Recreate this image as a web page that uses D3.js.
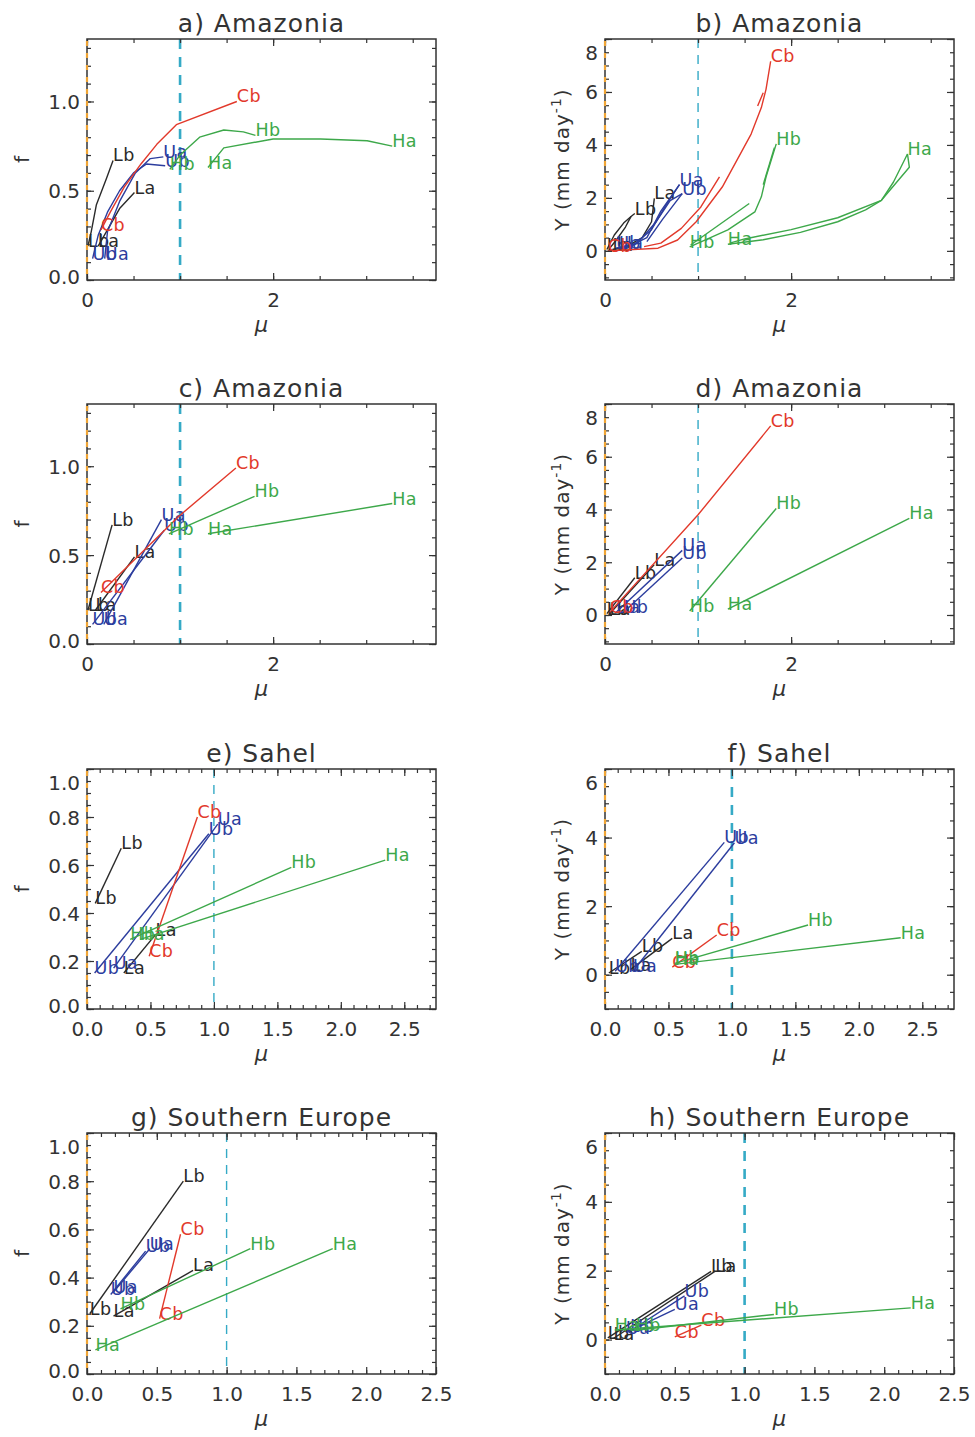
<!DOCTYPE html>
<html><head><meta charset="utf-8">
<script src="https://cdn.jsdelivr.net/npm/d3@7"></script>
<style>body{margin:0;background:#fff}svg{display:block}</style>
</head><body>
<svg id="chart" width="975" height="1437"></svg>
<script>
// ---------- text ----------
const panelTitles = ["a) Amazonia","b) Amazonia","c) Amazonia","d) Amazonia",
                     "e) Sahel","f) Sahel","g) Southern Europe","h) Southern Europe"];
const xTitle = "μ";
const fTitle = "f";
const yTitleMain = "Y (mm day", yTitleSup = "-1", yTitleEnd = ")";

// ---------- axis ticks ----------
const amazXTicks = [0, 2], amazXTickLabels = ["0", "2"];
const amazFTicks = [0, 0.5, 1.0], amazFTickLabels = ["0.0", "0.5", "1.0"];
const amazYTicks = [0, 2, 4, 6, 8], amazYTickLabels = ["0", "2", "4", "6", "8"];
const otherXTicks = [0, 0.5, 1.0, 1.5, 2.0, 2.5], otherXTickLabels = ["0.0","0.5","1.0","1.5","2.0","2.5"];
const otherFTicks = [0, 0.2, 0.4, 0.6, 0.8, 1.0], otherFTickLabels = ["0.0","0.2","0.4","0.6","0.8","1.0"];
const otherYTicks = [0, 2, 4, 6], otherYTickLabels = ["0", "2", "4", "6"];
const xDomains = [[0,3.75],[0,3.75],[0,3.75],[0,3.75],[0,2.75],[0,2.75],[0,2.5],[0,2.5]];
const yDomains = [[0,1.35],[-1.1,8],[0,1.35],[-1.1,8],[0,1],[-1,6],[0,1],[-1,6]];
const thresholdMu = 1.0;

// ---------- series (mu = x values, val = f or Y values) ----------
const seriesA = [
  {name:"Lb", mu:[0.01,0.045,0.10,0.21,0.28], val:[0.19,0.27,0.42,0.57,0.67]},
  {name:"La", mu:[0.12,0.35,0.51], val:[0.19,0.40,0.49]},
  {name:"Ub", mu:[0.06,0.12,0.22,0.35,0.50,0.64,0.84], val:[0.12,0.25,0.38,0.50,0.60,0.65,0.64]},
  {name:"Ua", mu:[0.19,0.22,0.35,0.52,0.68,0.82], val:[0.12,0.27,0.44,0.60,0.68,0.69]},
  {name:"Cb", mu:[0.15,0.25,0.40,0.58,0.75,0.96,1.61], val:[0.28,0.38,0.52,0.65,0.76,0.87,1.0]},
  {name:"Hb", mu:[0.89,1.0,1.21,1.47,1.68,1.81], val:[0.62,0.70,0.80,0.84,0.83,0.81]},
  {name:"Ha", mu:[1.30,1.47,2.0,2.51,3.01,3.28], val:[0.63,0.74,0.79,0.79,0.78,0.75]}
];
const seriesB = [
  {name:"Lb", mu:[0.02,0.10,0.20,0.28,0.32], val:[0.05,0.60,1.05,1.30,1.41]},
  {name:"Lb", mu:[0.28,0.22,0.12,0.05], val:[1.30,0.90,0.40,0.10], unlabeled:true},
  {name:"La", mu:[0.08,0.25,0.40,0.50,0.53], val:[0.05,0.20,0.50,1.10,1.98]},
  {name:"Ua", mu:[0.15,0.30,0.50,0.65,0.80], val:[0.10,0.20,0.80,1.70,2.50]},
  {name:"Ua", mu:[0.80,0.60,0.45,0.25], val:[2.50,1.50,0.50,0.15], unlabeled:true},
  {name:"Ub", mu:[0.12,0.35,0.55,0.70,0.83], val:[0.10,0.30,1.10,1.90,2.16]},
  {name:"Ub", mu:[0.83,0.62,0.45], val:[2.16,1.20,0.35], unlabeled:true},
  {name:"Cb", mu:[0.03,0.57,0.78,0.98,1.26,1.57,1.68,1.73,1.78], val:[0.0,0.10,0.41,1.10,2.41,4.41,5.41,6.10,7.16]},
  {name:"Cb", mu:[0.42,0.60,0.82,1.03,1.23], val:[0.16,0.29,0.85,1.66,2.79], unlabeled:true},
  {name:"Cb", mu:[1.64,1.70], val:[5.47,5.97], unlabeled:true},
  {name:"Hb", mu:[0.91,1.32,1.61,1.68,1.73,1.84], val:[0.15,0.79,1.47,2.04,2.79,4.04]},
  {name:"Hb", mu:[0.92,1.55], val:[0.22,1.79], unlabeled:true},
  {name:"Hb", mu:[1.70,1.82], val:[2.50,3.90], unlabeled:true},
  {name:"Ha", mu:[1.32,1.70,2.10,2.50,2.80,2.97,3.10,3.25], val:[0.25,0.42,0.70,1.10,1.55,1.91,2.60,3.66]},
  {name:"Ha", mu:[3.25,3.27,2.97,2.50,2.00,1.50,1.35], val:[3.66,3.16,1.91,1.25,0.80,0.45,0.30], unlabeled:true}
];
const seriesC = [
  {name:"Lb", mu:[0.01,0.27], val:[0.19,0.67]},
  {name:"La", mu:[0.09,0.51], val:[0.19,0.49]},
  {name:"Ub", mu:[0.06,0.83], val:[0.11,0.64]},
  {name:"Ua", mu:[0.18,0.80], val:[0.11,0.70]},
  {name:"Cb", mu:[0.15,0.99,1.60], val:[0.29,0.72,0.99]},
  {name:"Hb", mu:[0.88,1.80], val:[0.62,0.83]},
  {name:"Ha", mu:[1.30,3.28], val:[0.62,0.79]}
];
const seriesD = [
  {name:"Lb", mu:[0.02,0.32], val:[0.05,1.41]},
  {name:"La", mu:[0.05,0.53], val:[0.05,1.91]},
  {name:"Ua", mu:[0.12,0.83], val:[0.10,2.45]},
  {name:"Ub", mu:[0.20,0.83], val:[0.10,2.16]},
  {name:"Cb", mu:[0.05,1.0,1.78], val:[0.10,3.8,7.17]},
  {name:"Hb", mu:[0.91,1.84], val:[0.15,4.04]},
  {name:"Ha", mu:[1.32,3.27], val:[0.22,3.66]}
];
const seriesE = [
  {name:"Lb", mu:[0.065,0.27], val:[0.44,0.67]},
  {name:"La", mu:[0.29,0.54], val:[0.15,0.31]},
  {name:"Ub", mu:[0.06,0.96], val:[0.15,0.73]},
  {name:"Ua", mu:[0.21,1.03], val:[0.17,0.77]},
  {name:"Cb", mu:[0.49,0.87], val:[0.22,0.80]},
  {name:"Hb", mu:[0.34,1.61], val:[0.29,0.59]},
  {name:"Ha", mu:[0.42,2.35], val:[0.29,0.62]}
];
const seriesF = [
  {name:"Lb", mu:[0.03,0.29], val:[0.05,0.68]},
  {name:"La", mu:[0.20,0.53], val:[0.15,1.06]},
  {name:"Ub", mu:[0.08,0.94], val:[0.10,3.86]},
  {name:"Ua", mu:[0.22,1.02], val:[0.10,3.85]},
  {name:"Cb", mu:[0.53,0.88], val:[0.22,1.16]},
  {name:"Hb", mu:[0.55,1.60], val:[0.33,1.45]},
  {name:"Ha", mu:[0.55,2.33], val:[0.30,1.08]}
];
const seriesG = [
  {name:"Lb", mu:[0.02,0.69], val:[0.25,0.80]},
  {name:"La", mu:[0.19,0.76], val:[0.24,0.43]},
  {name:"Ub", mu:[0.17,0.42], val:[0.33,0.51]},
  {name:"Ua", mu:[0.19,0.45], val:[0.34,0.52]},
  {name:"Cb", mu:[0.52,0.67], val:[0.23,0.58]},
  {name:"Hb", mu:[0.24,1.17], val:[0.27,0.52]},
  {name:"Ha", mu:[0.06,1.76], val:[0.10,0.52]}
];
const seriesH = [
  {name:"Lb", mu:[0.02,0.76], val:[0.05,1.98]},
  {name:"La", mu:[0.06,0.79], val:[0.03,1.99]},
  {name:"Ub", mu:[0.18,0.57], val:[0.25,1.27]},
  {name:"Ua", mu:[0.15,0.50], val:[0.20,0.88]},
  {name:"Cb", mu:[0.50,0.69], val:[0.08,0.42]},
  {name:"Hb", mu:[0.22,1.21], val:[0.27,0.73]},
  {name:"Ha", mu:[0.07,2.19], val:[0.28,0.92]}
];

// ---------- build panel table ----------
const allSeries = [seriesA, seriesB, seriesC, seriesD, seriesE, seriesF, seriesG, seriesH];
const panels = panelTitles.map((t, i) => {
  const amaz = i < 4, isF = i % 2 === 0;
  return {
    title: t, series: allSeries[i], xd: xDomains[i], yd: yDomains[i], isF,
    xt: amaz ? amazXTicks : otherXTicks, xtl: amaz ? amazXTickLabels : otherXTickLabels,
    xm: amaz ? d3.range(0, 3.76, 0.5) : d3.range(0, xDomains[i][1] + 0.001, 0.1),
    yt: isF ? (amaz ? amazFTicks : otherFTicks) : (amaz ? amazYTicks : otherYTicks),
    ytl: isF ? (amaz ? amazFTickLabels : otherFTickLabels) : (amaz ? amazYTickLabels : otherYTickLabels),
    ym: isF ? d3.range(0, yDomains[i][1] + 0.001, amaz ? 0.1 : 0.05)
            : d3.range(Math.ceil(yDomains[i][0] * 2) / 2, yDomains[i][1] + 0.001, 0.5),
    thickDash: [0, 2, 5, 7].includes(i)
  };
});

// ---------- styles / layout ----------
const famColor = {L:"#2a2a2a", U:"#2c3d9e", C:"#e2392b", H:"#3da84a"};
const ink = "#333";
const colX0 = [87, 605], colX1 = [436, 954];
const rowY0 = [39, 404, 769, 1133], rowY1 = [280, 644, 1009, 1374];
const FONT = "'DejaVu Sans', Verdana, sans-serif";

const svg = d3.select("#chart");
svg.append("rect").attr("width", 975).attr("height", 1437).attr("fill", "#fff");

panels.forEach((p, i) => {
  const col = i % 2, row = Math.floor(i / 2);
  const x0 = colX0[col], x1 = colX1[col], y0 = rowY0[row], y1 = rowY1[row];
  const x = d3.scaleLinear().domain(p.xd).range([x0, x1]);
  const y = d3.scaleLinear().domain(p.yd).range([y1, y0]);
  const g = svg.append("g");

  // threshold dashed line
  g.append("line")
    .attr("x1", x(thresholdMu)).attr("x2", x(thresholdMu))
    .attr("y1", y0).attr("y2", y1)
    .attr("stroke", "#35aac6")
    .attr("stroke-width", p.thickDash ? 2.6 : 1.4)
    .attr("stroke-dasharray", p.thickDash ? "10,8" : "9,7");

  // series
  const line = d3.line().x(d => x(d[0])).y(d => y(d[1]));
  p.series.forEach(s => {
    const pts = s.mu.map((m, k) => [m, s.val[k]]);
    const c = famColor[s.name[0]];
    g.append("path").attr("d", line(pts)).attr("fill", "none")
      .attr("stroke", c).attr("stroke-width", 1.4).attr("stroke-linejoin", "round");
    if (!s.unlabeled) {
      [pts[0], pts[pts.length - 1]].forEach(pt => {
        g.append("text").attr("x", x(pt[0])).attr("y", y(pt[1]) + 1)
          .attr("fill", c).attr("font-family", FONT).attr("font-size", 17.5)
          .attr("letter-spacing", 0.4).text(s.name);
      });
    }
  });

  // axes (inward ticks on all four sides)
  const styleAxis = sel => {
    sel.select(".domain").remove();
    sel.selectAll("line").attr("stroke", ink).attr("stroke-width", 1.2);
    sel.selectAll("text").attr("fill", ink).attr("font-family", FONT).attr("font-size", 20);
  };
  g.append("g").attr("transform", `translate(0,${y1})`)
    .call(d3.axisBottom(x).tickValues(p.xt).tickFormat((d, k) => p.xtl[k]).tickSize(-7).tickSizeOuter(0).tickPadding(13))
    .call(styleAxis);
  g.append("g").attr("transform", `translate(0,${y1})`)
    .call(d3.axisBottom(x).tickValues(p.xm).tickFormat("").tickSize(-4).tickSizeOuter(0)).call(styleAxis);
  g.append("g").attr("transform", `translate(0,${y0})`)
    .call(d3.axisTop(x).tickValues(p.xt).tickFormat("").tickSize(-7).tickSizeOuter(0)).call(styleAxis);
  g.append("g").attr("transform", `translate(0,${y0})`)
    .call(d3.axisTop(x).tickValues(p.xm).tickFormat("").tickSize(-4).tickSizeOuter(0)).call(styleAxis);
  const left = g.append("g").attr("transform", `translate(${x0},0)`)
    .call(d3.axisLeft(y).tickValues(p.yt).tickFormat((d, k) => p.ytl[k]).tickSize(-7).tickSizeOuter(0).tickPadding(7))
    .call(styleAxis);
  left.selectAll(".tick text").attr("dy", d => d === p.yd[1] ? "1.0em" : (d === p.yd[0] ? "0.15em" : "0.35em"));
  g.append("g").attr("transform", `translate(${x0},0)`)
    .call(d3.axisLeft(y).tickValues(p.ym).tickFormat("").tickSize(-4).tickSizeOuter(0)).call(styleAxis);
  g.append("g").attr("transform", `translate(${x1},0)`)
    .call(d3.axisRight(y).tickValues(p.yt).tickFormat("").tickSize(-7).tickSizeOuter(0)).call(styleAxis);
  g.append("g").attr("transform", `translate(${x1},0)`)
    .call(d3.axisRight(y).tickValues(p.ym).tickFormat("").tickSize(-4).tickSizeOuter(0)).call(styleAxis);

  // frame
  g.append("rect").attr("x", x0).attr("y", y0).attr("width", x1 - x0).attr("height", y1 - y0)
    .attr("fill", "none").attr("stroke", ink).attr("stroke-width", 1.5);
  // orange marks along left spine (as in the scan)
  g.append("line").attr("x1", x0).attr("x2", x0).attr("y1", y0 + 2).attr("y2", y1)
    .attr("stroke", "#f0a535").attr("stroke-width", 2.2).attr("stroke-dasharray", "5,7");

  // title
  g.append("text").attr("x", (x0 + x1) / 2).attr("y", y0 - 7).attr("text-anchor", "middle")
    .attr("fill", ink).attr("font-family", FONT).attr("font-size", 25).attr("letter-spacing", 1)
    .text(p.title);
  // x title
  g.append("text").attr("x", (x0 + x1) / 2).attr("y", y1 + 52).attr("text-anchor", "middle")
    .attr("fill", ink).attr("font-family", FONT).attr("font-size", 21).attr("font-style", "italic")
    .text(xTitle);
  // y title
  if (p.isF) {
    g.append("text").attr("transform", `translate(29,${(y0 + y1) / 2}) rotate(-90)`)
      .attr("text-anchor", "middle").attr("fill", ink).attr("font-family", FONT).attr("font-size", 20)
      .text(fTitle);
  } else {
    const t = g.append("text").attr("transform", `translate(569,${(y0 + y1) / 2}) rotate(-90)`)
      .attr("text-anchor", "middle").attr("fill", ink).attr("font-family", FONT).attr("font-size", 20)
      .attr("letter-spacing", 1);
    t.append("tspan").text(yTitleMain);
    t.append("tspan").attr("dy", -8).attr("font-size", 14).text(yTitleSup);
    t.append("tspan").attr("dy", 8).text(yTitleEnd);
  }
});
</script>
</body></html>
